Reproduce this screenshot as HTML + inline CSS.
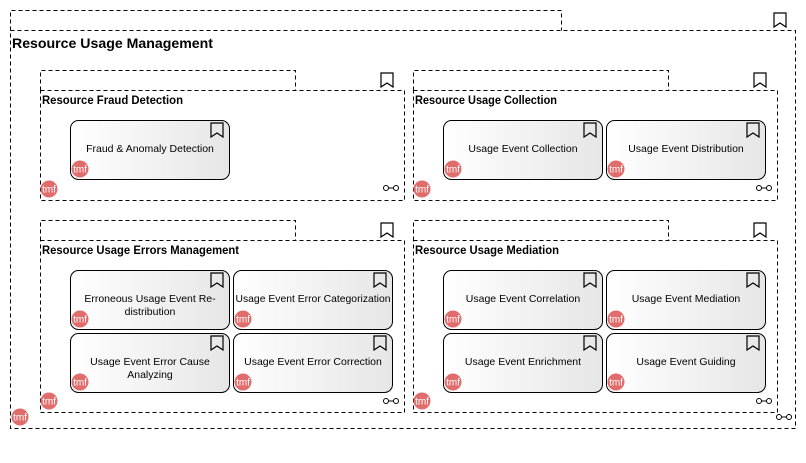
<!DOCTYPE html>
<html><head><meta charset="utf-8"><style>body{margin:0;background:#fff}svg{display:block}</style></head><body>
<svg width="806" height="463" xmlns="http://www.w3.org/2000/svg" font-family="Liberation Sans, sans-serif">
<defs>
<linearGradient id="g" x1="0" x2="1" y1="0" y2="0"><stop offset="0" stop-color="#fff"/><stop offset="1" stop-color="#e6e6e6"/></linearGradient>
<g id="bm"><path d="M0,0 H12 V14 L6,10 L0,14 Z" fill="none" stroke="#000" stroke-width="1.2"/></g>
<g id="tmf"><circle cx="0" cy="0" r="8.5" fill="#e06c6c"/><text x="0" y="3.5" font-size="10" fill="#fff" text-anchor="middle">tmf</text></g>
<g id="lk"><circle cx="-6" cy="0" r="2.5" fill="none" stroke="#000"/><circle cx="4" cy="0" r="2.5" fill="none" stroke="#000"/><line x1="-3.5" y1="0" x2="1.5" y2="0" stroke="#000"/></g>
</defs>
<g fill="none" stroke="#000" stroke-dasharray="4,3" stroke-width="1">
<path d="M10.5,30.5 V10.5 H561.5 V30.5"/><rect x="10.5" y="30.5" width="785" height="398"/>
<path d="M40.5,90.5 V70.5 H295.5 V90.5"/><rect x="40.5" y="90.5" width="364" height="110"/>
<path d="M413.5,90.5 V70.5 H668.5 V90.5"/><rect x="413.5" y="90.5" width="364" height="110"/>
<path d="M40.5,240.5 V220.5 H295.5 V240.5"/><rect x="40.5" y="240.5" width="364" height="172"/>
<path d="M413.5,240.5 V220.5 H668.5 V240.5"/><rect x="413.5" y="240.5" width="364" height="172"/>
</g>
<g font-weight="bold" fill="#000">
<text x="12" y="48" font-size="14" textLength="201" lengthAdjust="spacingAndGlyphs">Resource Usage Management</text>
<text x="42" y="104" font-size="11.5" textLength="141" lengthAdjust="spacingAndGlyphs">Resource Fraud Detection</text>
<text x="415" y="104" font-size="11.5" textLength="142" lengthAdjust="spacingAndGlyphs">Resource Usage Collection</text>
<text x="42" y="254" font-size="11.5" textLength="197" lengthAdjust="spacingAndGlyphs">Resource Usage Errors Management</text>
<text x="415" y="254" font-size="11.5" textLength="144" lengthAdjust="spacingAndGlyphs">Resource Usage Mediation</text>
</g>
<use href="#bm" x="774" y="13"/><use href="#bm" x="381" y="73"/><use href="#bm" x="754" y="73"/><use href="#bm" x="381" y="223"/><use href="#bm" x="754" y="223"/>
<use href="#tmf" x="20" y="417"/><use href="#tmf" x="49" y="189"/><use href="#tmf" x="422" y="189"/><use href="#tmf" x="49" y="401"/><use href="#tmf" x="422" y="401"/>
<use href="#lk" x="785" y="417"/><use href="#lk" x="392" y="188"/><use href="#lk" x="765" y="188"/><use href="#lk" x="392" y="401"/><use href="#lk" x="765" y="401"/>
<g font-size="10.5" fill="#000" text-anchor="middle">
<g transform="translate(70,120)"><rect x="0.5" y="0.5" width="159" height="59" rx="8" fill="url(#g)" stroke="#000"/><use href="#bm" x="141" y="3"/><use href="#tmf" x="10" y="49"/><text x="80" y="32">Fraud &amp; Anomaly Detection</text></g>
<g transform="translate(443,120)"><rect x="0.5" y="0.5" width="159" height="59" rx="8" fill="url(#g)" stroke="#000"/><use href="#bm" x="141" y="3"/><use href="#tmf" x="10" y="49"/><text x="80" y="32">Usage Event Collection</text></g>
<g transform="translate(606,120)"><rect x="0.5" y="0.5" width="159" height="59" rx="8" fill="url(#g)" stroke="#000"/><use href="#bm" x="141" y="3"/><use href="#tmf" x="10" y="49"/><text x="80" y="32">Usage Event Distribution</text></g>
<g transform="translate(70,270)"><rect x="0.5" y="0.5" width="159" height="59" rx="8" fill="url(#g)" stroke="#000"/><use href="#bm" x="141" y="3"/><use href="#tmf" x="10" y="49"/><text x="80" y="32">Erroneous Usage Event Re-</text><text x="80" y="45">distribution</text></g>
<g transform="translate(233,270)"><rect x="0.5" y="0.5" width="159" height="59" rx="8" fill="url(#g)" stroke="#000"/><use href="#bm" x="141" y="3"/><use href="#tmf" x="10" y="49"/><text x="80" y="32" textLength="155" lengthAdjust="spacingAndGlyphs">Usage Event Error Categorization</text></g>
<g transform="translate(70,333)"><rect x="0.5" y="0.5" width="159" height="59" rx="8" fill="url(#g)" stroke="#000"/><use href="#bm" x="141" y="3"/><use href="#tmf" x="10" y="49"/><text x="80" y="32">Usage Event Error Cause</text><text x="80" y="45">Analyzing</text></g>
<g transform="translate(233,333)"><rect x="0.5" y="0.5" width="159" height="59" rx="8" fill="url(#g)" stroke="#000"/><use href="#bm" x="141" y="3"/><use href="#tmf" x="10" y="49"/><text x="80" y="32">Usage Event Error Correction</text></g>
<g transform="translate(443,270)"><rect x="0.5" y="0.5" width="159" height="59" rx="8" fill="url(#g)" stroke="#000"/><use href="#bm" x="141" y="3"/><use href="#tmf" x="10" y="49"/><text x="80" y="32">Usage Event Correlation</text></g>
<g transform="translate(606,270)"><rect x="0.5" y="0.5" width="159" height="59" rx="8" fill="url(#g)" stroke="#000"/><use href="#bm" x="141" y="3"/><use href="#tmf" x="10" y="49"/><text x="80" y="32">Usage Event Mediation</text></g>
<g transform="translate(443,333)"><rect x="0.5" y="0.5" width="159" height="59" rx="8" fill="url(#g)" stroke="#000"/><use href="#bm" x="141" y="3"/><use href="#tmf" x="10" y="49"/><text x="80" y="32">Usage Event Enrichment</text></g>
<g transform="translate(606,333)"><rect x="0.5" y="0.5" width="159" height="59" rx="8" fill="url(#g)" stroke="#000"/><use href="#bm" x="141" y="3"/><use href="#tmf" x="10" y="49"/><text x="80" y="32">Usage Event Guiding</text></g>
</g>
</svg>
</body></html>
